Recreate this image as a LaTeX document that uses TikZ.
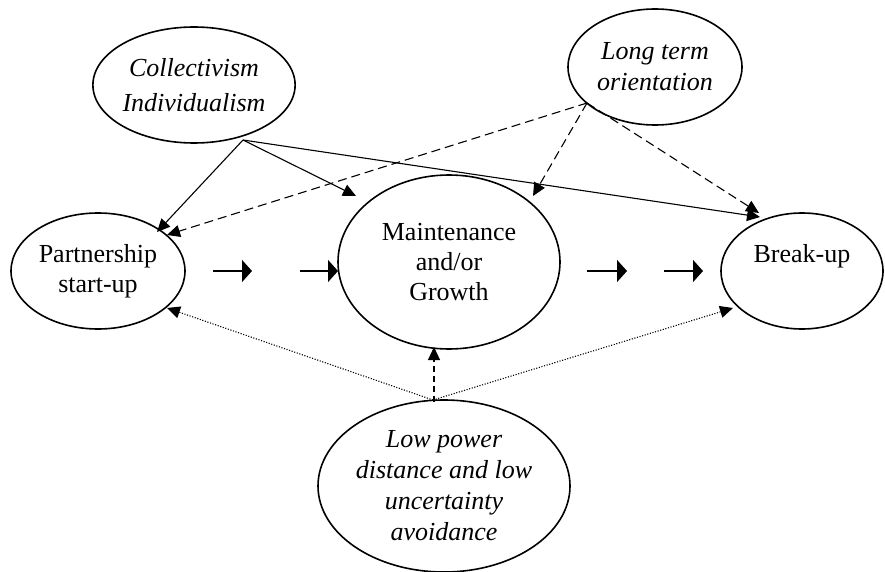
\documentclass[tikz,border=0pt]{standalone}
\usepackage{fontspec}
\setmainfont{Liberation Serif}
\usetikzlibrary{shapes.geometric,arrows.meta}
\begin{document}
\begin{tikzpicture}[x=1pt,y=-1pt,
  oval/.style={draw, line width=1.6pt, ellipse, inner sep=0pt, align=center,
    font=\fontsize{26}{30}\selectfont},
  ital/.style={font=\fontsize{26}{31}\selectfont\itshape},
  bigtip/.style={-{Triangle[length=13pt,width=12pt]}},
  link/.style={line width=1.1pt, bigtip},
  dashedlink/.style={link, dash pattern=on 9pt off 5pt},
  dottedlink/.style={link, dash pattern=on 1.1pt off 1.6pt},
  steparrow/.style={line width=1.4pt, -{Triangle[length=10pt,width=22pt]}}]
\useasboundingbox (0,0) rectangle (885,572);

% ellipses
\node[oval, ital, minimum width=174pt, minimum height=116pt] (coll) at (194,85)
  {Collectivism\\[4pt]Individualism};
\node[oval, ital, minimum width=174pt, minimum height=116pt] (lto) at (655,67)
  {Long term\\orientation};
\node[oval, minimum width=174pt, minimum height=116pt] (part) at (98,271)
  {Partnership\\start-up};
\node[oval, minimum width=222pt, minimum height=174pt] (main) at (449,262)
  {Maintenance\\and/or\\Growth};
\node[oval, minimum width=162pt, minimum height=116pt] (brk) at (802,271)
  {Break-up\\[6pt]~};
\node[oval, ital, minimum width=252pt, minimum height=172pt] (low) at (444,486)
  {Low power\\distance and low\\uncertainty\\avoidance};

% source points
\coordinate (cs) at (243,140);
\coordinate (ls) at (587,103);
\coordinate (bs) at (433,400);
\coordinate (bsv) at (434,402);

% target points
\coordinate (cpart) at (157,232);
\coordinate (cmain) at (356,196);
\coordinate (cbrk) at (760,217);
\coordinate (lpart) at (167,235);
\coordinate (lmain) at (533,196);
\coordinate (lbrk) at (759,213);
\coordinate (bpart) at (167,308);
\coordinate (bmain) at (434,347);
\coordinate (bbrk) at (733,308);

% solid arrows from Collectivism/Individualism
\draw[link] (cs) -- (cpart);
\draw[link] (cs) -- (cmain);
\draw[link] (cs) -- (cbrk);

% dashed arrows from Long term orientation
\draw[dashedlink] (ls) -- (lpart);
\draw[dashedlink] (ls) -- (lmain);
\draw[dashedlink] (ls) -- (lbrk);

% from Low power distance
\draw[dottedlink] (bs) -- (bpart);
\draw[dottedlink] (bs) -- (bbrk);
\draw[dashedlink, dash pattern=on 6pt off 4pt] (bsv) -- (bmain);

% stage arrows
\coordinate (a1s) at (213,271); \coordinate (a1e) at (252,271);
\coordinate (a2s) at (300,271); \coordinate (a2e) at (338,271);
\coordinate (a3s) at (587,271); \coordinate (a3e) at (627,271);
\coordinate (a4s) at (664,271); \coordinate (a4e) at (703,271);
\draw[steparrow] (a1s) -- (a1e);
\draw[steparrow] (a2s) -- (a2e);
\draw[steparrow] (a3s) -- (a3e);
\draw[steparrow] (a4s) -- (a4e);
\end{tikzpicture}
\end{document}
